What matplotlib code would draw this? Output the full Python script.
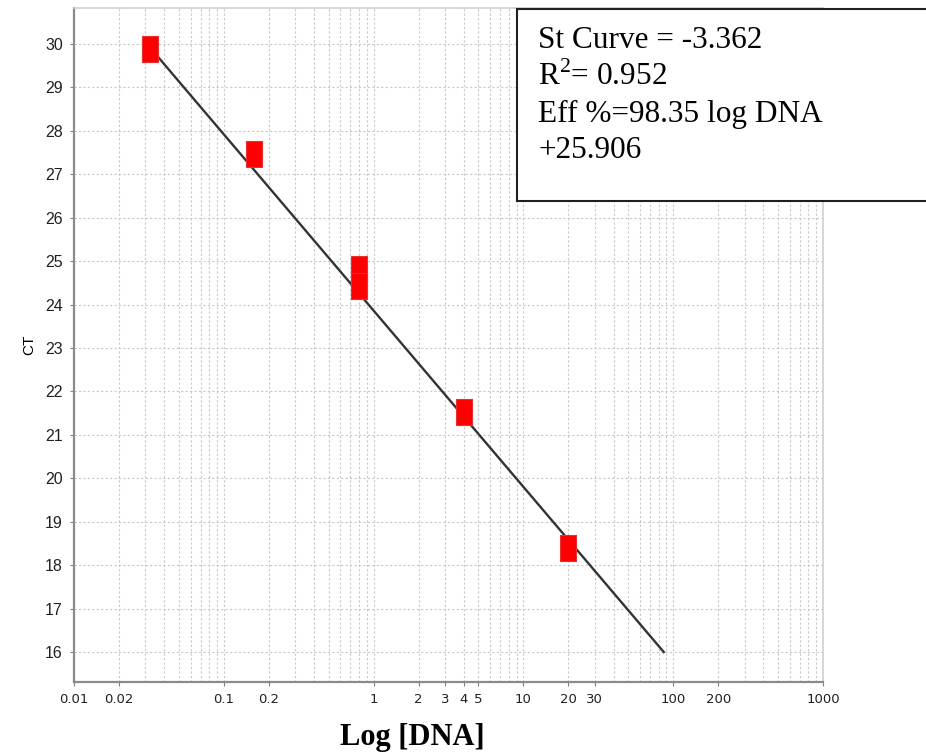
"""
Standard curve: Ct vs log DNA amount, with fit summary box
"""

import numpy as np
import matplotlib.pyplot as plt
from matplotlib.patches import Rectangle
from matplotlib.ticker import FixedLocator, LogLocator, NullFormatter

plt.rcParams['mathtext.fontset'] = 'custom'
plt.rcParams['mathtext.rm'] = 'Liberation Serif'

# DNA amounts (5-fold dilutions) and measured Ct
dna = [0.032, 0.16, 0.8, 0.8, 4, 20]
ct = [29.88, 27.46, 24.81, 24.44, 21.52, 18.40]

# standard curve line (end points)
fit_dna = [0.032, 86.5]
fit_ct = [29.93, 16.0]

xticks = [0.01, 0.02, 0.1, 0.2, 1, 2, 3, 4, 5, 10, 20, 30, 100, 200, 1000]
xticklabels = ['0.01', '0.02', '0.1', '0.2', '1', '2', '3', '4', '5',
               '10', '20', '30', '100', '200', '1000']
yticks = list(range(16, 31))

summary = ['St Curve = -3.362', r'R$^{2}$= 0.952',
           'Eff %=98.35 log DNA', '+25.906']

fig = plt.figure(figsize=(9.26, 7.54), dpi=100)
ax = fig.add_axes([74 / 926, 1 - 682 / 754, 749 / 926, 674 / 754])

ax.set_xscale('log')
ax.set_xlim(0.01, 1000)
ax.set_ylim(15.31, 30.83)

# grid: dotted, minor lines on x too
ax.xaxis.set_minor_locator(LogLocator(base=10, subs=np.arange(2, 10)))
ax.xaxis.set_minor_formatter(NullFormatter())
ax.grid(True, which='major', axis='both', color='#c8c8c8',
        linestyle=(0, (2, 2)), linewidth=0.8)
ax.grid(True, which='minor', axis='x', color='#c8c8c8',
        linestyle=(0, (2, 2)), linewidth=0.8)
ax.set_axisbelow(True)

ax.xaxis.set_major_locator(FixedLocator(xticks))
ax.set_xticklabels(xticklabels)
ax.set_yticks(yticks)
ax.tick_params(axis='x', which='minor', length=0)
ax.tick_params(axis='both', which='major', length=3, width=0.8,
               color='#808080')
ax.tick_params(axis='x', which='major', pad=5)
ax.tick_params(axis='y', which='major', pad=5)
for lab in ax.get_xticklabels():
    lab.set_fontfamily('Liberation Sans Narrow')
    lab.set_fontsize(9.5)
    lab.set_color('#202020')
for lab in ax.get_yticklabels():
    lab.set_fontfamily('Liberation Sans')
    lab.set_fontsize(11.5)
    lab.set_color('#202020')

for side in ['left', 'bottom']:
    ax.spines[side].set_color('#8a8a8a')
    ax.spines[side].set_linewidth(1.6)
for side in ['top', 'right']:
    ax.spines[side].set_color('#d0d0d0')
    ax.spines[side].set_linewidth(1.2)

ax.plot(fit_dna, fit_ct, color='#333333', linewidth=1.7, zorder=3)

rect = [(-0.29, -0.5), (0.29, -0.5), (0.29, 0.5), (-0.29, 0.5), (-0.29, -0.5)]
ax.plot(dna, ct, linestyle='none', marker=rect, markersize=19,
        markerfacecolor='#ff0000', markeredgecolor='#e83030',
        markeredgewidth=0.8, zorder=4)

ax.set_ylabel('CT', fontfamily='Liberation Sans', fontsize=11)
ax.yaxis.set_label_coords(-38 / 749, 0.5)
ax.set_xlabel('Log [DNA]', fontfamily='Liberation Serif',
              fontweight='bold', fontsize=22, va='baseline')
ax.xaxis.set_label_coords((412 - 74) / 749, -(745 - 682) / 674)

# summary box, running off the right edge of the figure
box = Rectangle((517 / 926, 1 - 201 / 754), 0.6, (201 - 9) / 754,
                transform=fig.transFigure, facecolor='white',
                edgecolor='#202020', linewidth=1.5, zorder=5,
                clip_on=False)
fig.patches.append(box)
baselines = [48, 85, 122, 158]
for line, yb in zip(summary, baselines):
    fig.text(538 / 926, 1 - yb / 754, line, fontfamily='Liberation Serif',
             fontsize=22.5, va='baseline', ha='left', zorder=6)

fig.savefig('out.png', dpi=100)
